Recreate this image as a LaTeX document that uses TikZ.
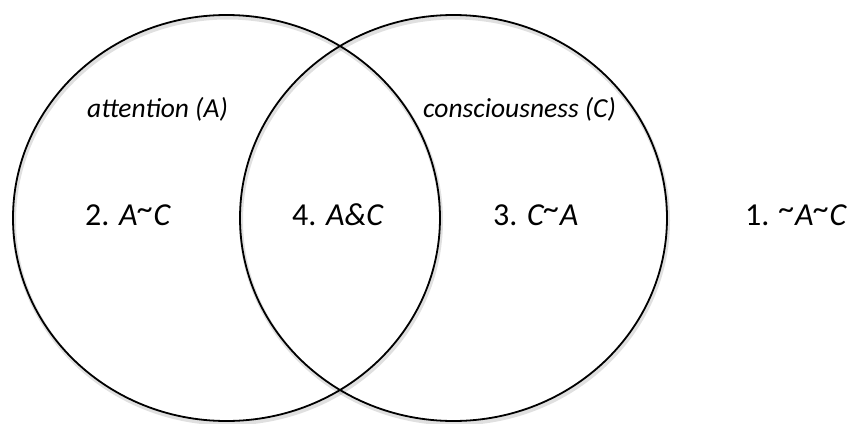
\documentclass[tikz,border=0pt]{standalone}
\usepackage{fontspec}
\setmainfont{Carlito}
\usepackage{tikz}
\usetikzlibrary{shapes.geometric}
\newcommand{\tld}{\raisebox{0.35ex}{\textasciitilde}}

\begin{document}
\begin{tikzpicture}[
    x=1pt, y=-1pt,
    nosep/.style={inner sep=0},
    venn/.style={ellipse, draw, line width=1.8pt, minimum width=427pt, minimum height=406pt, nosep,
        preaction={draw=black, draw opacity=0.12, line width=4pt, transform canvas={shift={(1pt,-2.5pt)}}}},
    setname/.style={nosep, anchor=base west, font=\fontsize{27.5}{33}\selectfont\itshape},
    region/.style={nosep, anchor=base west, font=\fontsize{32}{38}\selectfont}]
\useasboundingbox (0,0) rectangle (853,423);

\node[venn] (A) at (226.5,218) {};
\node[venn] (C) at (453.5,218) {};

\node[setname] (nameA) at (87,117) {attention (A)};
\node[setname] (nameC) at (423,117) {consciousness (C)};

\node[region] (r2) at (85,225) {2. \textit{A\tld C}};
\node[region] (r4) at (292,225) {4. \textit{A\&C}};
\node[region] (r3) at (493,225) {3. \textit{C\tld A}};
\node[region] (r1) at (745,225) {1. \textit{\tld A\tld C}};

\end{tikzpicture}
\end{document}
